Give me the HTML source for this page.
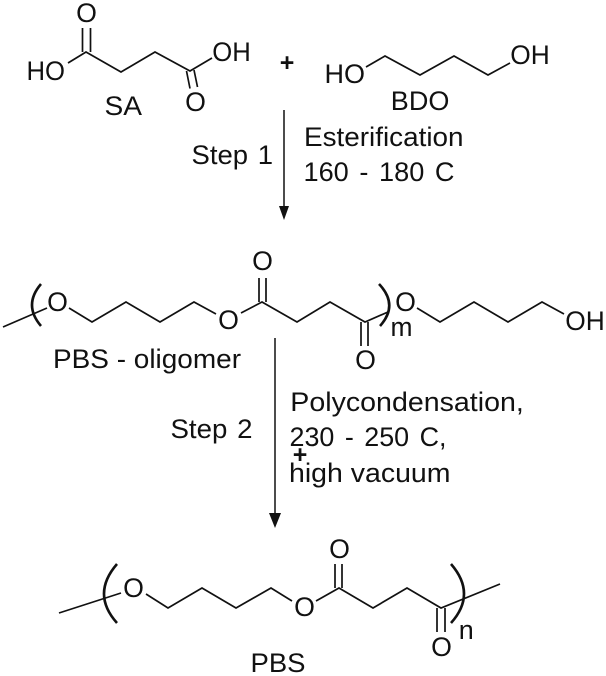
<!DOCTYPE html>
<html>
<head>
<meta charset="utf-8">
<style>
html,body{margin:0;padding:0;background:#fff;width:606px;height:676px;overflow:hidden}
svg{display:block}
text{font-family:"Liberation Sans",Arial,sans-serif;font-size:26.5px;fill:#111}
.b{fill:none;stroke:#111;stroke-width:1.7;stroke-linejoin:miter}
.br{fill:none;stroke:#111;stroke-width:2.6}
.a{fill:none;stroke:#111;stroke-width:1.5}
.p{font-weight:bold;text-anchor:middle;font-size:25px}
.w{word-spacing:3px}
.s{word-spacing:2px}
</style>
</head>
<body>
<svg width="606" height="676" viewBox="0 0 606 676" xmlns="http://www.w3.org/2000/svg">
<!-- SA -->
<polyline class="b" points="68,63 86,52 121,72 155,52 190,71 212,58"/>
<path class="b" d="M82.5,52V28M90.5,52V28M186.5,71L190,88.500M194,70L197.500,87"/>
<text x="26.500" y="80" textLength="38.500" lengthAdjust="spacingAndGlyphs">HO</text>
<text x="76.200" y="22" textLength="20.800" lengthAdjust="spacingAndGlyphs">O</text>
<text x="212.300" y="61" textLength="38.500" lengthAdjust="spacingAndGlyphs">OH</text>
<text x="185.200" y="111" textLength="20.800" lengthAdjust="spacingAndGlyphs">O</text>
<text x="104.500" y="115" textLength="37.500" lengthAdjust="spacingAndGlyphs">SA</text>
<text class="p" x="287" y="71">+</text>
<!-- BDO -->
<polyline class="b" points="366,67 385,56 420,75 454,56 488,75 510,63"/>
<text x="324.500" y="83" textLength="40.500" lengthAdjust="spacingAndGlyphs">HO</text>
<text x="510.300" y="64" textLength="39.500" lengthAdjust="spacingAndGlyphs">OH</text>
<text x="390.800" y="110" textLength="58.600" lengthAdjust="spacingAndGlyphs">BDO</text>
<!-- Arrow 1 -->
<line class="a" x1="284" y1="110" x2="284" y2="208"/>
<polygon points="279,206 289,206 284,220" fill="#111"/>
<text class="s" x="191.500" y="164" textLength="81.500" lengthAdjust="spacingAndGlyphs">Step 1</text>
<text x="304" y="146" textLength="159.500" lengthAdjust="spacingAndGlyphs">Esterification</text>
<text class="w" x="303.500" y="181" textLength="151" lengthAdjust="spacingAndGlyphs">160 - 180 C</text>
<!-- PBS oligomer -->
<line class="b" x1="3" y1="327" x2="47" y2="308"/>
<path class="br" d="M41,284Q23,305 41,326"/>
<text x="47.200" y="311" textLength="20.800" lengthAdjust="spacingAndGlyphs">O</text>
<polyline class="b" points="69,308 92,322 126,302 160,322 194,302 216,314"/>
<text x="218.200" y="329" textLength="20.800" lengthAdjust="spacingAndGlyphs">O</text>
<polyline class="b" points="241,313 262,302 297,322 330,302 365,322 388,312"/>
<path class="b" d="M259,302V278M266,302V278M361,322V346M368,322V346"/>
<text x="252.200" y="270" textLength="20.800" lengthAdjust="spacingAndGlyphs">O</text>
<text x="355.200" y="369" textLength="20.800" lengthAdjust="spacingAndGlyphs">O</text>
<path class="br" d="M379,284Q399,305 380,326"/>
<text x="395.200" y="311" textLength="20.800" lengthAdjust="spacingAndGlyphs">O</text>
<polyline class="b" points="417,308 440,322 474,302 508,322 542,302 564,314"/>
<text x="565.300" y="330" textLength="39.500" lengthAdjust="spacingAndGlyphs">OH</text>
<text x="390.500" y="336" textLength="22" lengthAdjust="spacingAndGlyphs">m</text>
<text x="53" y="368" textLength="188" lengthAdjust="spacingAndGlyphs">PBS - oligomer</text>
<!-- Arrow 2 -->
<line class="a" x1="275" y1="338" x2="275" y2="515"/>
<polygon points="269,513 281,513 275,528" fill="#111"/>
<text class="s" x="170.500" y="438" textLength="82" lengthAdjust="spacingAndGlyphs">Step 2</text>
<text x="290.300" y="411" textLength="233.500" lengthAdjust="spacingAndGlyphs">Polycondensation,</text>
<text class="w" x="289.500" y="446" textLength="157" lengthAdjust="spacingAndGlyphs">230 - 250 C,</text>
<text class="p" x="300" y="463">+</text>
<text x="289" y="482" textLength="161.500" lengthAdjust="spacingAndGlyphs">high vacuum</text>
<!-- PBS -->
<line class="b" x1="59" y1="613" x2="121" y2="593"/>
<path class="br" d="M117,564Q91,594 117,623"/>
<text x="123.200" y="597" textLength="20.800" lengthAdjust="spacingAndGlyphs">O</text>
<polyline class="b" points="146,594 168,608 202,588 236,608 271,588 292,601"/>
<text x="294.200" y="616" textLength="20.800" lengthAdjust="spacingAndGlyphs">O</text>
<polyline class="b" points="316,601 339,588 373,608 407,588 441,608 500,584"/>
<path class="b" d="M335,588V564M342,588V564M437,608V632M445,608V632"/>
<text x="329.200" y="558" textLength="20.800" lengthAdjust="spacingAndGlyphs">O</text>
<text x="431.200" y="656" textLength="20.800" lengthAdjust="spacingAndGlyphs">O</text>
<path class="br" d="M451,564Q477,594 451,623"/>
<text x="458.800" y="639" textLength="15" lengthAdjust="spacingAndGlyphs">n</text>
<text x="250.500" y="672" textLength="55" lengthAdjust="spacingAndGlyphs">PBS</text>
</svg>
</body>
</html>
